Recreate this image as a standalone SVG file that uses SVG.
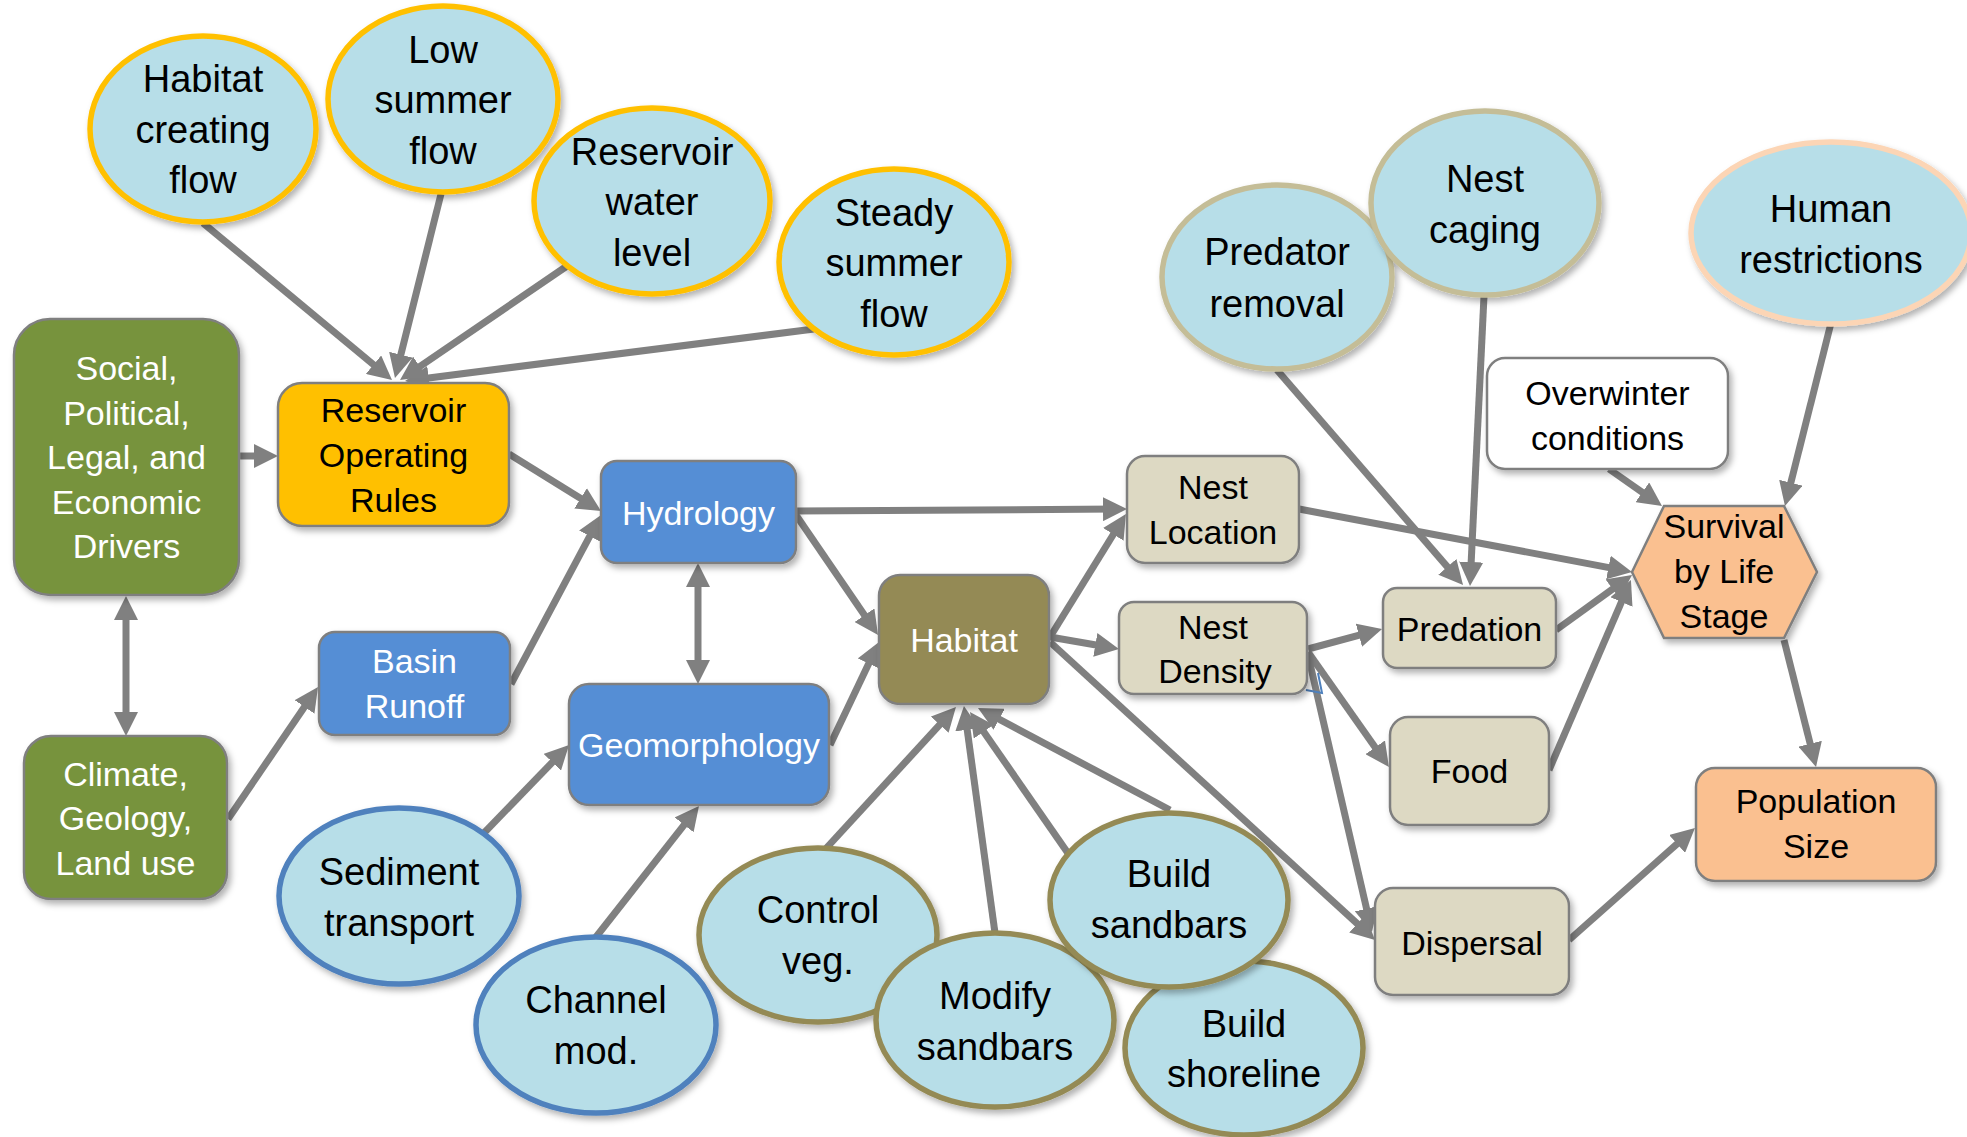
<svg xmlns="http://www.w3.org/2000/svg" width="1967" height="1137" viewBox="0 0 1967 1137">
  <defs>
    <filter id="shadow" x="-20%" y="-20%" width="140%" height="140%">
      <feDropShadow dx="3" dy="4" stdDeviation="3" flood-color="#000" flood-opacity="0.3"/>
    </filter>
    <marker id="ah" markerUnits="userSpaceOnUse" markerWidth="24" markerHeight="24" viewBox="0 0 24 24" refX="14" refY="12" orient="auto-start-reverse">
      <path d="M0,0 L24,12 L0,24 Z" fill="#808080"/>
    </marker>
    <style>
      .c { stroke: #808080; stroke-width: 7; fill: none; marker-end: url(#ah); }
      .c2 { stroke: #808080; stroke-width: 7; fill: none; marker-start: url(#ah); marker-end: url(#ah); }
      .ell { fill: #B7DEE8; stroke-width: 5.5; filter: url(#shadow); }
      .gold { stroke: #FFC000; }
      .tan { stroke: #C4BD97; }
      .olive { stroke: #948A54; }
      .blue { stroke: #4F81BD; }
      .peach { stroke: #FCD5B5; }
      .box { stroke: #7F7F7F; stroke-width: 2.5; filter: url(#shadow); }
      .green { fill: #77933C; }
      .amber { fill: #FFC000; }
      .sky { fill: #558ED5; }
      .khaki { fill: #948A54; }
      .beige { fill: #DDD9C3; }
      .salmon { fill: #FAC090; }
      .white { fill: #FFFFFF; }
      text { font-family: "Liberation Sans", Arial, sans-serif; text-anchor: middle; }
      .t1 { font-size: 38px; fill: #000; }
      .t2 { font-size: 34px; fill: #000; }
      .tw { font-size: 34px; fill: #FFFFFF; }
    </style>
  </defs>

  <rect width="1967" height="1137" fill="#FFFFFF"/>

  <!-- connectors -->
  <g id="connectors">
    <line class="c" x1="203" y1="223" x2="384.3" y2="373.6"/>
    <line class="c" x1="441" y1="194" x2="397.4" y2="368.3"/>
    <line class="c" x1="567" y1="266" x2="408.3" y2="374.4"/>
    <line class="c" x1="814" y1="329" x2="414.9" y2="379.7"/>
    <line class="c" x1="239" y1="456" x2="268" y2="456"/>
    <line class="c2" x1="126" y1="606" x2="126" y2="726"/>
    <line class="c" x1="509" y1="454" x2="592.5" y2="505.7"/>
    <line class="c" x1="511" y1="684" x2="596.3" y2="523.8"/>
    <line class="c" x1="228" y1="819" x2="312.4" y2="695.3"/>
    <line class="c" x1="482" y1="835" x2="562.1" y2="752.2"/>
    <line class="c" x1="596" y1="937" x2="692.8" y2="813.9"/>
    <line class="c2" x1="698" y1="573" x2="698" y2="674"/>
    <line class="c" x1="796" y1="511" x2="1117" y2="509.1"/>
    <line class="c" x1="796" y1="515" x2="872.4" y2="626.7"/>
    <line class="c" x1="830" y1="745" x2="874.7" y2="651"/>
    <line class="c" x1="1050" y1="637" x2="1120.7" y2="522.5"/>
    <line class="c" x1="1050" y1="637" x2="1109.1" y2="647.3"/>
    <line class="c" x1="1050" y1="642" x2="1367.6" y2="933.2"/>
    <line class="c" x1="1308" y1="655" x2="1369.7" y2="922.3"/>
    <line class="c" x1="1308" y1="649" x2="1372.4" y2="631.6"/>
    <line class="c" x1="1308" y1="652" x2="1383.2" y2="758.8"/>
    <line class="c" x1="1299" y1="509" x2="1622.2" y2="570.1"/>
    <line class="c" x1="1277" y1="370" x2="1456.5" y2="577.4"/>
    <line class="c" x1="1484" y1="296" x2="1470.5" y2="576"/>
    <line class="c" x1="1556" y1="630" x2="1623.9" y2="580.9"/>
    <line class="c" x1="1549" y1="770" x2="1627" y2="589.2"/>
    <line class="c" x1="1609" y1="469" x2="1653.8" y2="500.3"/>
    <line class="c" x1="1831" y1="323" x2="1787.4" y2="496.3"/>
    <line class="c" x1="1784" y1="640" x2="1813.6" y2="757.3"/>
    <line class="c" x1="1569" y1="940" x2="1687.5" y2="834.6"/>
    <line class="c" x1="820" y1="855" x2="949.2" y2="714.4"/>
    <line class="c" x1="995" y1="933" x2="965.3" y2="715.9"/>
    <line class="c" x1="1181" y1="1016" x2="975.7" y2="720.2"/>
    <line class="c" x1="1170" y1="810" x2="986.8" y2="712.7"/>
    <path d="M1306,690 L1322,693 L1318,673" fill="none" stroke="#4F81BD" stroke-width="2"/>
  </g>

  <!-- management levers (ellipses) -->
  <g id="habitat-creating-flow">
    <ellipse class="ell gold" cx="203" cy="129" rx="113" ry="93"/>
    <text class="t1" x="203" y="92">Habitat</text>
    <text class="t1" x="203" y="143">creating</text>
    <text class="t1" x="203" y="193">flow</text>
  </g>
  <g id="low-summer-flow">
    <ellipse class="ell gold" cx="443" cy="99" rx="115" ry="93"/>
    <text class="t1" x="443" y="63">Low</text>
    <text class="t1" x="443" y="113">summer</text>
    <text class="t1" x="443" y="164">flow</text>
  </g>
  <g id="reservoir-water-level">
    <ellipse class="ell gold" cx="652" cy="201" rx="118" ry="93"/>
    <text class="t1" x="652" y="165">Reservoir</text>
    <text class="t1" x="652" y="215">water</text>
    <text class="t1" x="652" y="266">level</text>
  </g>
  <g id="steady-summer-flow">
    <ellipse class="ell gold" cx="894" cy="262" rx="115" ry="93"/>
    <text class="t1" x="894" y="226">Steady</text>
    <text class="t1" x="894" y="276">summer</text>
    <text class="t1" x="894" y="327">flow</text>
  </g>
  <g id="predator-removal">
    <ellipse class="ell tan" cx="1277" cy="277" rx="115" ry="92"/>
    <text class="t1" x="1277" y="265">Predator</text>
    <text class="t1" x="1277" y="317">removal</text>
  </g>
  <g id="nest-caging">
    <ellipse class="ell tan" cx="1485" cy="203" rx="114" ry="92"/>
    <text class="t1" x="1485" y="192">Nest</text>
    <text class="t1" x="1485" y="243">caging</text>
  </g>
  <g id="human-restrictions">
    <ellipse class="ell peach" cx="1831" cy="233" rx="140" ry="91"/>
    <text class="t1" x="1831" y="222">Human</text>
    <text class="t1" x="1831" y="273">restrictions</text>
  </g>
  <g id="sediment-transport">
    <ellipse class="ell blue" cx="399" cy="896" rx="120" ry="88"/>
    <text class="t1" x="399" y="885">Sediment</text>
    <text class="t1" x="399" y="936">transport</text>
  </g>
  <g id="channel-mod">
    <ellipse class="ell blue" cx="596" cy="1025" rx="120" ry="88"/>
    <text class="t1" x="596" y="1013">Channel</text>
    <text class="t1" x="596" y="1064">mod.</text>
  </g>
  <g id="control-veg">
    <ellipse class="ell olive" cx="818" cy="935" rx="119" ry="87"/>
    <text class="t1" x="818" y="923">Control</text>
    <text class="t1" x="818" y="974">veg.</text>
  </g>
  <g id="modify-sandbars">
    <ellipse class="ell olive" cx="995" cy="1020" rx="119" ry="87"/>
    <text class="t1" x="995" y="1009">Modify</text>
    <text class="t1" x="995" y="1060">sandbars</text>
  </g>
  <g id="build-shoreline">
    <ellipse class="ell olive" cx="1244" cy="1048" rx="119" ry="87"/>
    <text class="t1" x="1244" y="1037">Build</text>
    <text class="t1" x="1244" y="1087">shoreline</text>
  </g>
  <g id="build-sandbars">
    <ellipse class="ell olive" cx="1169" cy="900" rx="119" ry="87"/>
    <text class="t1" x="1169" y="887">Build</text>
    <text class="t1" x="1169" y="938">sandbars</text>
  </g>

  <!-- drivers and system boxes -->
  <g id="drivers">
    <rect class="box green" x="14" y="319" width="225" height="276" rx="36"/>
    <text class="tw" x="126.5" y="380">Social,</text>
    <text class="tw" x="126.5" y="425">Political,</text>
    <text class="tw" x="126.5" y="469">Legal, and</text>
    <text class="tw" x="126.5" y="514">Economic</text>
    <text class="tw" x="126.5" y="558">Drivers</text>
  </g>
  <g id="climate">
    <rect class="box green" x="24" y="736" width="203" height="163" rx="27"/>
    <text class="tw" x="125.5" y="786">Climate,</text>
    <text class="tw" x="125.5" y="830">Geology,</text>
    <text class="tw" x="125.5" y="875">Land use</text>
  </g>
  <g id="reservoir-operating-rules">
    <rect class="box amber" x="278" y="383" width="231" height="143" rx="24"/>
    <text class="t2" x="393.5" y="422">Reservoir</text>
    <text class="t2" x="393.5" y="467">Operating</text>
    <text class="t2" x="393.5" y="512">Rules</text>
  </g>
  <g id="hydrology">
    <rect class="box sky" x="601" y="461" width="195" height="102" rx="16"/>
    <text class="tw" x="698.5" y="525">Hydrology</text>
  </g>
  <g id="basin-runoff">
    <rect class="box sky" x="319" y="632" width="191" height="103" rx="16"/>
    <text class="tw" x="414.5" y="673">Basin</text>
    <text class="tw" x="414.5" y="718">Runoff</text>
  </g>
  <g id="geomorphology">
    <rect class="box sky" x="569" y="684" width="260" height="121" rx="20"/>
    <text class="tw" x="699" y="757">Geomorphology</text>
  </g>
  <g id="habitat">
    <rect class="box khaki" x="879" y="575" width="170" height="129" rx="21"/>
    <text class="tw" x="964" y="652">Habitat</text>
  </g>
  <g id="nest-location">
    <rect class="box beige" x="1127" y="456" width="172" height="107" rx="18"/>
    <text class="t2" x="1213" y="499">Nest</text>
    <text class="t2" x="1213" y="544">Location</text>
  </g>
  <g id="nest-density">
    <rect class="box beige" x="1119" y="602" width="188" height="92" rx="15"/>
    <text class="t2" x="1213" y="639">Nest</text>
    <text class="t2" x="1215" y="683">Density</text>
  </g>
  <g id="predation">
    <rect class="box beige" x="1383" y="588" width="173" height="80" rx="14"/>
    <text class="t2" x="1469.5" y="641">Predation</text>
  </g>
  <g id="food">
    <rect class="box beige" x="1390" y="717" width="159" height="108" rx="18"/>
    <text class="t2" x="1469.5" y="783">Food</text>
  </g>
  <g id="dispersal">
    <rect class="box beige" x="1375" y="888" width="194" height="107" rx="18"/>
    <text class="t2" x="1472" y="955">Dispersal</text>
  </g>
  <g id="overwinter-conditions">
    <rect class="box white" x="1487" y="358" width="241" height="111" rx="18"/>
    <text class="t2" x="1607.5" y="405">Overwinter</text>
    <text class="t2" x="1607.5" y="450">conditions</text>
  </g>
  <g id="survival-by-life-stage">
    <polygon class="box salmon" points="1632,572 1664,506 1784,506 1817,572 1784,638 1664,638"/>
    <text class="t2" x="1724" y="538">Survival</text>
    <text class="t2" x="1724" y="583">by Life</text>
    <text class="t2" x="1724" y="628">Stage</text>
  </g>
  <g id="population-size">
    <rect class="box salmon" x="1696" y="768" width="240" height="113" rx="19"/>
    <text class="t2" x="1816" y="813">Population</text>
    <text class="t2" x="1816" y="858">Size</text>
  </g>
</svg>
